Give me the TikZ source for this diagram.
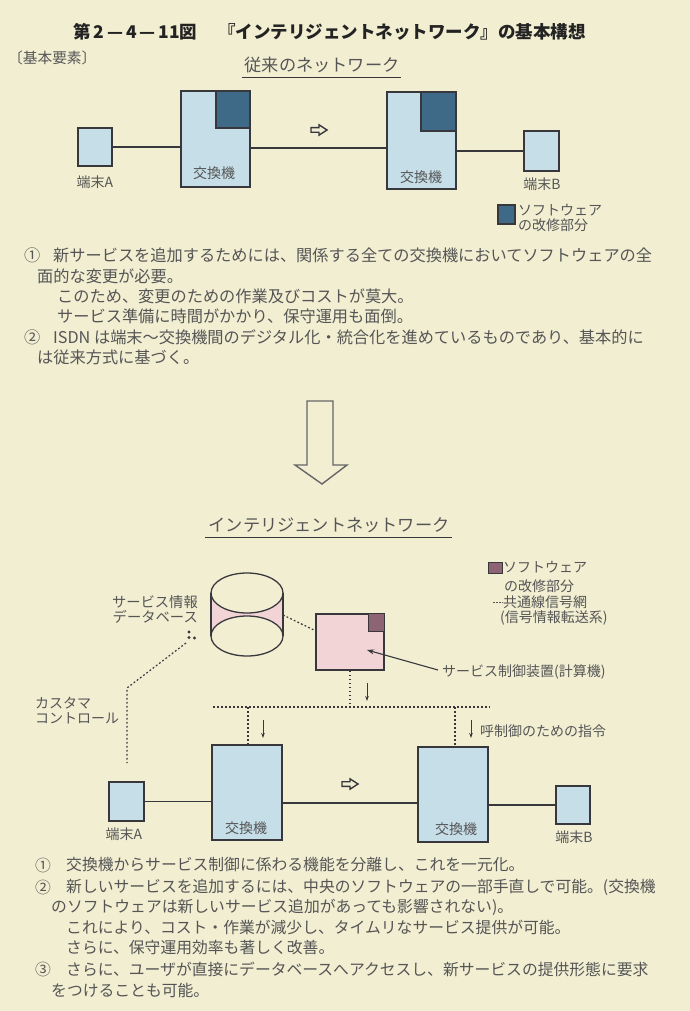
\documentclass[tikz,border=0pt]{standalone}
\usepackage{fontspec}
\setmainfont{Noto Sans CJK JP}
\usetikzlibrary{arrows.meta}
\definecolor{bg}{RGB}{241,238,210}
\definecolor{ink}{RGB}{55,55,60}
\definecolor{txt}{RGB}{85,85,85}
\definecolor{ttl}{RGB}{35,35,35}
\definecolor{lblue}{RGB}{198,222,232}
\definecolor{dblue}{RGB}{62,106,136}
\definecolor{lpink}{RGB}{243,212,214}
\definecolor{mauve}{RGB}{140,100,115}
\newcommand\fsz[1]{\fontsize{#1pt}{#1pt}\selectfont}
\begin{document}
\begin{tikzpicture}[x=1pt,y=-1pt,
  box/.style={draw=ink, line width=1.3pt, inner sep=0pt},
  bluebox/.style={box, fill=lblue},
  darksq/.style={box, fill=dblue, anchor=north east},
  pinkbox/.style={box, fill=lpink},
  mauvesq/.style={box, fill=mauve, line width=1pt},
  wire/.style={draw=ink, line width=1.3pt},
  dotline/.style={draw=ink, line width=1.2pt, dash pattern=on 1.8pt off 2.2pt},
  thinarrow/.style={draw=ink, line width=0.9pt, -{Stealth[length=5pt,width=3.5pt]}},
  lbl/.style={inner sep=0pt, text=txt, font=\fsz{14}},
  body/.style={inner sep=0pt, text=txt, anchor=west, font=\fsz{16.2}},
  bodyb/.style={inner sep=0pt, text=txt, anchor=west, font=\fsz{15.8}},
  sub/.style={inner sep=0pt, text=txt, font=\fsz{17.2}},
  harrow/.pic={\draw[ink, line width=1.4pt, fill=bg, line join=miter]
     (-8,-2.3) -- (0,-2.3) -- (0,-5.2) -- (8,0) -- (0,5.2) -- (0,2.3) -- (-8,2.3) -- cycle;}
]
\useasboundingbox (0,0) rectangle (690,1011);
\fill[bg] (0,0) rectangle (690,1011);

% ---------- title ----------
\node[inner sep=0pt, anchor=west, text=ttl, font=\fsz{17.5}\bfseries] (title1) at (73,32) {第\,2\,—\,4\,—\,11図};
\node[inner sep=0pt, anchor=east, text=ttl, font=\fsz{17.5}\bfseries] (title2) at (586,32) {『インテリジェントネットワーク』の基本構想};
\node[inner sep=0pt, anchor=west, text=txt, font=\fsz{14.7}] (kihon) at (8,58) {〔基本要素〕};

% ---------- conventional network ----------
\node[sub] (sub1) at (322,65) {従来のネットワーク};
\draw[ink, line width=0.8pt] (242,77) -- (401,77);

\node[bluebox, minimum width=34pt, minimum height=38pt] (ta) at (95,147) {};
\node[bluebox, minimum width=69pt, minimum height=96pt] (s1) at (215.5,139) {};
\node[darksq, minimum width=34pt, minimum height=37pt] (s1d) at (s1.north east) {};
\node[bluebox, minimum width=69pt, minimum height=97pt] (s2) at (421.5,140.5) {};
\node[darksq, minimum width=35pt, minimum height=39pt] (s2d) at (s2.north east) {};
\node[bluebox, minimum width=35pt, minimum height=40pt] (tb) at (541.5,151) {};

\coordinate (mid1) at (0,148);
\draw[wire] (ta.east) -- (ta.east -| s1.west);
\draw[wire] (s1.east |- mid1) -- (s2.west |- mid1);
\draw[wire] (s2.east |- tb.west) -- (tb.west);

\pic (arr1) at (319,130) {harrow};

\node[lbl] (ta-l) at (95,182) {端末A};
\node[lbl] (s1-l) at (214,173) {交換機};
\node[lbl] (s2-l) at (421,177) {交換機};
\node[lbl] (tb-l) at (542,184) {端末B};

\node[box, fill=dblue, minimum width=17pt, minimum height=19pt] (leg1) at (506.5,214.5) {};
\node[lbl, anchor=west] (leg1a) at (518,210) {ソフトウェア};
\node[lbl, anchor=west] (leg1b) at (518,225) {の改修部分};

% ---------- text block 1 ----------
\node[body] (t1n) at (24,255) {①};
\node[body] (t1a) at (53,255) {新サービスを追加するためには、関係する全ての交換機においてソフトウェアの全};
\node[body] (t1b) at (37,276) {面的な変更が必要。};
\node[body] (t1c) at (57,296) {このため、変更のための作業及びコストが莫大。};
\node[body] (t1d) at (57,316) {サービス準備に時間がかかり、保守運用も面倒。};
\node[body] (t2n) at (24,337) {②};
\node[body] (t2a) at (53,337) {ISDN は端末〜交換機間のデジタル化・統合化を進めているものであり、基本的に};
\node[body] (t2b) at (37,357) {は従来方式に基づく。};

% ---------- big arrow ----------
\draw[draw=black!60, line width=1.4pt, line join=miter]
  (307,401) -- (333,401) -- (333,465) -- (347,465) -- (322,484) -- (295,465) -- (307,465) -- cycle;

% ---------- intelligent network ----------
\node[sub] (sub2) at (329,525) {インテリジェントネットワーク};
\draw[ink, line width=0.8pt] (205,537) -- (452,537);

% database cylinder
\coordinate (db) at (247,614);
\fill[lpink] (211,593) -- (211,636) arc[start angle=180, end angle=360, x radius=36, y radius=20] -- (283,593) arc[start angle=0, end angle=180, x radius=36, y radius=20] -- cycle;
\draw[ink, line width=1.3pt] (247,593) ellipse[x radius=36, y radius=20];
\draw[ink, line width=1.3pt] (247,636) ellipse[x radius=36, y radius=20];
\draw[ink, line width=1.3pt] (211,593) -- (211,636);
\draw[ink, line width=1.3pt] (283,593) -- (283,636);

\node[lbl, anchor=east, font=\fsz{14.3}] (dbl1) at (198,602) {サービス情報};
\node[lbl, anchor=east, font=\fsz{14.3}] (dbl2) at (198,617) {データベース};
\fill[ink] (189,632) circle[radius=1.7];
\fill[ink] (189,637.5) circle[radius=1.7];
\fill[ink] (194.5,638) circle[radius=1.7];

% service control unit
\node[pinkbox, minimum width=68pt, minimum height=56pt] (scu) at (350,642) {};
\node[mauvesq, anchor=north east, minimum width=16pt, minimum height=18pt] (scud) at (scu.north east) {};

\coordinate (dbr) at (283,615);
\coordinate (scul) at (316,631);
\draw[dotline] (dbr) -- (scul);

\node[lbl, anchor=west] (scul-l) at (442,672) {サービス制御装置(計算機)};
\coordinate (scp) at (367,650);
\draw[draw=ink, line width=1.1pt, -{Stealth[length=7pt,width=5pt]}] ([xshift=-4pt,yshift=2pt]scul-l.west) -- (scp);

% legend
\node[box, fill=mauve, line width=0.6pt, minimum width=14pt, minimum height=11pt] (leg2) at (495,567.5) {};
\node[lbl, anchor=west] (leg2a) at (503,567) {ソフトウェア};
\node[lbl, anchor=west] (leg2b) at (504,586) {の改修部分};
\node[lbl, anchor=west] (leg2c) at (503,602) {共通線信号網};
\coordinate (legd1) at (493,602);
\draw[draw=txt, line width=1pt, dash pattern=on 1.5pt off 1.5pt] (legd1) -- (leg2c.west);
\node[lbl, anchor=west] (leg2d) at (500,618) {(信号情報転送系)};

% customer control
\node[lbl, anchor=west] (cc1) at (35,703) {カスタマ};
\node[lbl, anchor=west] (cc2) at (35,718) {コントロール};
\coordinate (ccA) at (186,643);
\coordinate (ccB) at (127,688);
\coordinate (ccC) at (127,763);
\draw[dotline] (ccA) -- (ccB) -- (ccC);

% switches (bottom)
\node[bluebox, minimum width=35pt, minimum height=39pt] (ta2) at (126.5,801.5) {};
\node[bluebox, minimum width=70pt, minimum height=95pt] (s3) at (247,792.5) {};
\node[bluebox, minimum width=70pt, minimum height=95pt] (s4) at (453,794.5) {};
\node[bluebox, minimum width=34pt, minimum height=38pt] (tb2) at (573,805) {};

\coordinate (mid2) at (0,803);
\draw[wire] (ta2.east) -- (ta2.east -| s3.west);
\draw[wire] (s3.east |- mid2) -- (s4.west |- mid2);
\draw[wire] (s4.east |- tb2.west) -- (tb2.west);

\pic (arr2) at (350,784) {harrow};

\node[lbl] (ta2-l) at (124,834) {端末A};
\node[lbl] (s3-l) at (246,828) {交換機};
\node[lbl] (s4-l) at (456,829) {交換機};
\node[lbl] (tb2-l) at (574,837) {端末B};

% signalling network
\coordinate (j1) at (350,707);
\coordinate (hl) at (213,707);
\coordinate (hr) at (490,707);
\coordinate (j2) at (248,707);
\coordinate (j3) at (455,707);
\draw[dotline] (scu.south) -- (j1);
\draw[dotline] (hl) -- (hr);
\draw[dotline] (j2) -- (j2 |- s3.north);
\draw[dotline] (j3) -- (j3 |- s4.north);

\coordinate (a1s) at (367,683); \coordinate (a1e) at (367,701);
\coordinate (a2s) at (263,720); \coordinate (a2e) at (263,738);
\coordinate (a3s) at (471,720); \coordinate (a3e) at (471,738);
\draw[thinarrow] (a1s) -- (a1e);
\draw[thinarrow] (a2s) -- (a2e);
\draw[thinarrow] (a3s) -- (a3e);
\node[lbl, anchor=west] (cmd) at (480,731) {呼制御のための指令};

% ---------- text block 2 ----------
\node[bodyb] (u1n) at (35,865) {①};
\node[bodyb] (u1a) at (66,865) {交換機からサービス制御に係わる機能を分離し、これを一元化。};
\node[bodyb] (u2n) at (35,887) {②};
\node[bodyb] (u2a) at (66,887) {新しいサービスを追加するには、中央のソフトウェアの一部手直しで可能。(交換機};
\node[bodyb] (u2b) at (51,907) {のソフトウェアは新しいサービス追加があっても影響されない)。};
\node[bodyb] (u2c) at (66,927) {これにより、コスト・作業が減少し、タイムリなサービス提供が可能。};
\node[bodyb] (u2d) at (66,948) {さらに、保守運用効率も著しく改善。};
\node[bodyb] (u3n) at (35,969) {③};
\node[bodyb] (u3a) at (66,969) {さらに、ユーザが直接にデータベースへアクセスし、新サービスの提供形態に要求};
\node[bodyb] (u3b) at (51,990) {をつけることも可能。};
\end{tikzpicture}
\end{document}
